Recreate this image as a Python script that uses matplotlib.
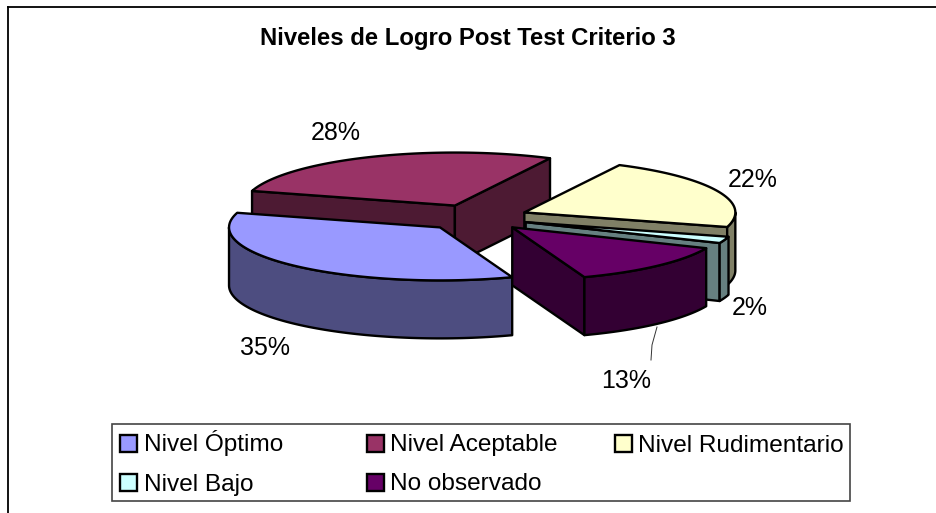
import matplotlib
matplotlib.use('Agg')
import matplotlib.pyplot as plt
from matplotlib.patches import Polygon, Rectangle
import numpy as np

plt.rcParams['font.family'] = ['Liberation Sans', 'DejaVu Sans']

title = 'Niveles de Logro Post Test Criterio 3'
categories = ['Nivel Óptimo', 'Nivel Aceptable', 'Nivel Rudimentario', 'Nivel Bajo', 'No observado']
values = [35, 28, 22, 2, 13]
top_colors = ['#9999FF', '#993366', '#FFFFCC', '#CCFFFF', '#660066']
side_colors = ['#4D4D80', '#4D1A33', '#808066', '#668080', '#330033']

# posiciones de las etiquetas en pixeles
label_pos = [(265, 348), (336, 133), (753, 180), (750, 308), (626, 381)]
legend_pos = [(120, 435), (367, 435), (615, 435), (120, 474), (367, 474)]

# geometria del pie 3d
cx, cy = 476, 217.7
rx, ry = 211, 53
depth = 58
explode = 0.25
start_angle = 160
lw = 1.7


def point(ang, ox, oy, dy=0):
    a = np.radians(ang)
    return ox + rx * np.sin(a), oy - ry * np.cos(a) + dy


def arc(a0, a1, ox, oy, dy=0):
    angs = np.linspace(a0, a1, 80)
    return [point(a, ox, oy, dy) for a in angs]


def draw_slice(ax, a0, a1, top, side, z):
    # dejar el inicio entre 0 y 360
    shift = 360 * (a0 // 360)
    a0, a1 = a0 - shift, a1 - shift

    mid = (a0 + a1) / 2
    ox, oy = point(mid, cx, cy)
    ox = cx + (ox - cx) * explode
    oy = cy + (oy - cy) * explode

    # caras radiales visibles
    for ang, visible in ((a0, np.sin(np.radians(a0)) < 0), (a1, np.sin(np.radians(a1)) > 0)):
        if visible:
            p = point(ang, ox, oy)
            wall = [(ox, oy), p, (p[0], p[1] + depth), (ox, oy + depth)]
            ax.add_patch(Polygon(wall, closed=True, fc=side, ec='black', lw=lw, joinstyle='round', zorder=z))

    # pared exterior, solo la parte de adelante
    v0, v1 = max(a0, 90), min(a1, 270)
    if v0 < v1:
        wall = arc(v0, v1, ox, oy) + arc(v1, v0, ox, oy, depth)
        ax.add_patch(Polygon(wall, closed=True, fc=side, ec='black', lw=lw, joinstyle='round', zorder=z))

    # cara de arriba
    pts = [(ox, oy)] + arc(a0, a1, ox, oy)
    ax.add_patch(Polygon(pts, closed=True, fc=top, ec='black', lw=lw, joinstyle='round', zorder=z))


fig = plt.figure(figsize=(9.36, 5.13), dpi=100)
ax = fig.add_axes([0, 0, 1, 1])
ax.set_xlim(0, 936)
ax.set_ylim(513, 0)
ax.axis('off')

# marco del grafico: solo arriba y a la izquierda
ax.plot([8, 8], [520, 6.5], color='black', lw=1.3, zorder=1)
ax.plot([8, 940], [6.5, 6.5], color='black', lw=1.3, zorder=1)

ax.text(468, 38, title, ha='center', va='center', fontsize=17.2, fontweight='bold')

# angulos de cada porcion
edges = start_angle + np.cumsum([0] + values) * 3.6
order = [1, 2, 3, 0, 4]
for z, i in enumerate(order):
    draw_slice(ax, edges[i], edges[i + 1], top_colors[i], side_colors[i], 3 + z)

for v, (x, y) in zip(values, label_pos):
    ax.text(x, y, f'{v}%', ha='center', va='center', fontsize=18, zorder=20)

# linea guia del 13%
ax.plot([657, 652, 651], [327, 345, 360], color='#333333', lw=0.7, zorder=20)

# leyenda
ax.add_patch(Rectangle((112, 423.5), 738, 77, fc='white', ec='#444444', lw=1.2, zorder=10))
for name, color, (x, y) in zip(categories, top_colors, legend_pos):
    ax.add_patch(Rectangle((x, y), 16.5, 16.5, fc=color, ec='black', lw=1.7, zorder=11))
    ax.text(x + 23.5, y + 16.5, name, ha='left', va='baseline', fontsize=17.6, zorder=11)

fig.savefig('out.png', dpi=100)
